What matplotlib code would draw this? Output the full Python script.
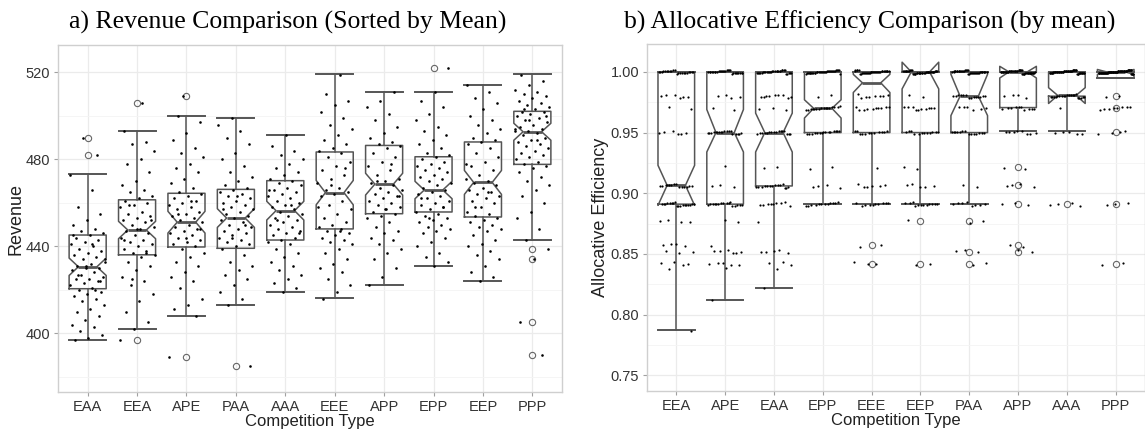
'''
Revenue and allocative efficiency by competition type (notched boxplots + jitter)
'''

import numpy as np
import matplotlib
matplotlib.use('Agg')
import matplotlib.pyplot as plt

# ---- panel a: revenue ----
rev_types = ['EAA', 'EEA', 'APE', 'PAA', 'AAA', 'EEE', 'APP', 'EPP', 'EEP', 'PPP']
rev_q1 = [420.5, 436.1, 439.7, 439.1, 442.9, 448.0, 455.0, 455.8, 453.5, 477.7]
rev_med = [430.6, 447.5, 451.1, 453.0, 456.4, 464.7, 468.6, 465.9, 469.4, 492.7]
rev_q3 = [445.2, 461.4, 464.4, 466.2, 470.2, 483.4, 486.4, 481.2, 488.0, 502.1]
rev_lo = [397.0, 402.0, 408.0, 413.0, 419.1, 416.2, 422.0, 431.1, 424.1, 443.0]
rev_hi = [473.2, 493.2, 500.0, 499.0, 491.1, 519.1, 511.1, 511.1, 514.1, 519.1]
rev_notch = [4.0, 4.0, 5.0, 4.3, 4.3, 5.6, 5.0, 4.0, 5.5, 3.9]
rev_fliers = [[490, 482], [506, 397], [509, 389], [385], [], [], [], [522], [],
              [439, 434, 405, 390]]

rev_EAA = [473, 466, 458, 455, 452, 450, 448, 447, 446, 445, 444, 443, 442, 441, 440, 439,
           438, 437, 436, 435, 434, 433, 432, 431, 430, 430, 429, 428, 427, 426, 425, 425,
           424, 423, 422, 421, 420, 419, 418, 417, 416, 415, 413, 411, 410, 408, 406, 404,
           403, 401, 399, 398, 397, 482, 490, 434, 441, 427, 424, 431, 445, 420]
rev_EEA = [493, 488, 487, 484, 480, 478, 474, 470, 468, 466, 465, 463, 462, 461, 460, 459,
           458, 456, 455, 454, 453, 452, 451, 450, 449, 448, 447, 446, 445, 444, 443, 442,
           441, 440, 439, 438, 437, 436, 435, 433, 431, 429, 426, 424, 422, 418, 415, 410,
           405, 402, 397, 506, 459, 452, 448, 443, 437, 425]
rev_APE = [500, 497, 492, 489, 485, 483, 481, 478, 476, 474, 471, 469, 467, 465, 464, 463,
           462, 461, 460, 459, 458, 457, 456, 455, 454, 453, 452, 451, 450, 449, 448, 447,
           446, 445, 444, 443, 442, 441, 440, 439, 437, 435, 433, 431, 428, 426, 424, 421,
           416, 413, 411, 408, 509, 389, 461, 455, 448, 444]
rev_PAA = [499, 496, 493, 490, 487, 483, 480, 477, 474, 472, 470, 468, 467, 466, 465, 464,
           463, 462, 461, 460, 459, 458, 457, 456, 455, 454, 453, 452, 451, 450, 449, 448,
           447, 446, 445, 444, 443, 442, 441, 440, 439, 436, 433, 431, 429, 427, 425, 422,
           419, 416, 413, 385, 463, 457, 450, 444]
rev_AAA = [491, 486, 484, 482, 480, 478, 476, 474, 473, 471, 470, 469, 468, 467, 466, 465,
           464, 463, 462, 461, 460, 459, 458, 457, 456, 455, 454, 453, 452, 451, 450, 449,
           448, 447, 446, 445, 444, 443, 442, 441, 439, 437, 435, 433, 431, 429, 427, 425,
           423, 421, 419, 466, 459, 452, 446]
rev_EEE = [519, 510, 507, 505, 502, 499, 496, 494, 491, 489, 487, 485, 484, 483, 481, 479,
           477, 475, 473, 471, 469, 467, 466, 465, 464, 463, 461, 459, 457, 455, 453, 451,
           450, 449, 448, 447, 446, 445, 444, 443, 442, 441, 439, 437, 434, 432, 430, 428,
           425, 422, 419, 416, 476, 468, 458, 447]
rev_APP = [511, 507, 504, 501, 498, 495, 492, 490, 488, 487, 486, 485, 483, 481, 479, 477,
           475, 473, 471, 470, 469, 468, 467, 466, 465, 464, 463, 462, 461, 460, 459, 458,
           457, 456, 455, 454, 453, 451, 449, 447, 446, 444, 443, 441, 439, 437, 434, 430,
           426, 422, 478, 470, 463, 457]
rev_EPP = [522, 511, 507, 504, 501, 498, 495, 493, 491, 489, 487, 485, 483, 482, 481, 480,
           479, 478, 477, 476, 475, 474, 473, 472, 471, 470, 469, 468, 467, 466, 465, 464,
           463, 462, 461, 460, 459, 458, 457, 456, 455, 454, 453, 452, 451, 450, 449, 448,
           447, 446, 444, 442, 440, 437, 435, 433, 431, 462, 458, 453]
rev_EEP = [514, 511, 508, 506, 503, 500, 498, 496, 494, 492, 490, 489, 488, 487, 485, 483,
           481, 479, 477, 475, 473, 471, 470, 469, 468, 467, 466, 465, 464, 463, 462, 461,
           460, 458, 456, 455, 454, 453, 452, 451, 450, 449, 448, 447, 445, 443, 441, 440,
           438, 436, 434, 431, 428, 426, 424, 478, 465, 458]
rev_PPP = [519, 516, 514, 512, 511, 510, 509, 508, 507, 506, 505, 504, 503, 502, 502, 501,
           500, 499, 498, 497, 496, 495, 494, 493, 493, 492, 491, 490, 489, 488, 487, 486,
           485, 484, 483, 482, 481, 480, 479, 478, 477, 476, 474, 472, 470, 468, 466, 463,
           460, 456, 453, 448, 443, 439, 434, 405, 390, 498, 494, 489, 503, 500]
rev_points = [rev_EAA, rev_EEA, rev_APE, rev_PAA, rev_AAA, rev_EEE, rev_APP, rev_EPP,
              rev_EEP, rev_PPP]

# ---- panel b: allocative efficiency ----
eff_types = ['EEA', 'APE', 'EAA', 'EPP', 'EEE', 'EEP', 'PAA', 'APP', 'AAA', 'PPP']
eff_q1 = [0.891, 0.891, 0.906, 0.950, 0.950, 0.950, 0.950, 0.9706, 0.980, 0.995]
eff_med = [0.9065, 0.950, 0.950, 0.970, 0.991, 1.000, 0.980, 1.000, 0.9806, 1.000]
eff_q3 = [1.0, 1.0, 1.0, 1.0, 1.0, 1.0, 1.0, 1.0, 1.0, 1.0]
eff_lo = [0.7873, 0.8123, 0.822, 0.891, 0.891, 0.891, 0.891, 0.951, 0.951, 0.995]
eff_hi = [1.0, 1.0, 1.0, 1.0, 1.0, 1.0, 1.0, 1.0, 1.0, 1.0]
eff_cilo = [0.890, 0.934, 0.934, 0.962, 0.983, 0.986, 0.964, 0.995, 0.974, 0.998]
eff_cihi = [0.923, 0.969, 0.966, 0.977, 0.998, 1.008, 0.998, 1.0046, 0.987, 1.002]
eff_fliers = [[], [], [], [], [0.857, 0.842], [0.877, 0.842], [0.877, 0.8515, 0.842],
              [0.9216, 0.9065, 0.891, 0.857, 0.8515], [0.891],
              [0.980, 0.9706, 0.9506, 0.891, 0.842]]

# observed efficiency levels and how many runs landed on each
eff_levels = [1.00, 0.98, 0.97, 0.95, 0.921, 0.906, 0.891, 0.877, 0.857, 0.852, 0.842,
              0.837, 0.822, 0.812, 0.787]
cnt_EEA = [22, 6, 2, 6, 0, 14, 18, 4, 4, 3, 4, 1, 0, 0, 1]
cnt_APE = [28, 4, 2, 18, 1, 3, 16, 2, 1, 6, 5, 1, 0, 1, 0]
cnt_EAA = [30, 9, 3, 16, 2, 14, 9, 1, 0, 5, 3, 1, 1, 0, 0]
cnt_EPP = [35, 2, 16, 15, 2, 4, 12, 0, 0, 0, 0, 0, 0, 0, 0]
cnt_EEE = [35, 8, 10, 12, 1, 6, 10, 0, 2, 0, 3, 0, 0, 0, 0]
cnt_EEP = [40, 2, 10, 12, 2, 5, 12, 1, 0, 0, 2, 0, 0, 0, 0]
cnt_PAA = [38, 14, 6, 14, 0, 2, 8, 2, 0, 3, 2, 0, 0, 0, 0]
cnt_APP = [50, 4, 10, 8, 2, 4, 3, 0, 2, 2, 0, 0, 0, 0, 0]
cnt_AAA = [55, 20, 1, 5, 0, 0, 4, 0, 0, 0, 0, 0, 0, 0, 0]
cnt_PPP = [70, 2, 8, 4, 0, 0, 3, 0, 0, 0, 2, 0, 0, 0, 0]
eff_counts = [cnt_EEA, cnt_APE, cnt_EAA, cnt_EPP, cnt_EEE, cnt_EEP, cnt_PAA, cnt_APP,
              cnt_AAA, cnt_PPP]

box_col = '#555555'
grid_major = '#ebebeb'
grid_minor = '#f4f4f4'


def jitter(n, seed, amount):
	# deterministic spread (low discrepancy) in place of random jitter
	return ((np.arange(n) * 0.6180339 + seed) % 1.0 - 0.5) * 2 * amount


def style_axes(ax, labels, ylabel):
	ax.set_xlim(0.4, len(labels) + 0.6)
	ax.set_xticks(np.arange(1, len(labels) + 1))
	ax.set_xticklabels(labels)
	ax.grid(True, which='major', color=grid_major, lw=0.9, zorder=0)
	ax.grid(True, which='minor', axis='y', color=grid_minor, lw=0.6, zorder=0)
	ax.set_axisbelow(True)
	for s in ax.spines.values():
		s.set_color('#cfcfcf')
		s.set_linewidth(1.0)
	ax.tick_params(axis='both', colors='#a0a0a0', labelcolor='#333333', labelsize=10.5,
	               length=3, width=0.8, pad=2.5)
	ax.tick_params(axis='y', which='minor', length=0)
	ax.set_xlabel('Competition Type', fontsize=12, color='#222222', labelpad=0)
	ax.set_ylabel(ylabel, fontsize=13, color='#222222', labelpad=1)


def draw_boxes(ax, q1, med, q3, lo, hi, cilo, cihi, fliers):
	stats = []
	for i in range(len(q1)):
		stats.append(dict(q1=q1[i], med=med[i], q3=q3[i], whislo=lo[i], whishi=hi[i],
		                  cilo=cilo[i], cihi=cihi[i], fliers=fliers[i]))
	ax.bxp(stats, positions=np.arange(1, len(q1) + 1), widths=0.75, shownotches=True,
	       boxprops=dict(color=box_col, lw=1.1),
	       whiskerprops=dict(color=box_col, lw=1.1),
	       capprops=dict(color=box_col, lw=1.4),
	       medianprops=dict(color=box_col, lw=2.0),
	       flierprops=dict(marker='o', markerfacecolor='none', markeredgecolor='#666666',
	                       markersize=4.5, markeredgewidth=0.8),
	       capwidths=0.75, zorder=2)


plt.rcParams['font.family'] = ['Liberation Sans', 'DejaVu Sans']

fig = plt.figure('Competition comparison', figsize=(11.45, 4.32), dpi=100)
ax1 = fig.add_axes([58 / 1145, 40 / 432, 504 / 1145, 347 / 432])
ax2 = fig.add_axes([647 / 1145, 41 / 432, 498 / 1145, 347 / 432])

# a) revenue
rev_cilo = [m - d for m, d in zip(rev_med, rev_notch)]
rev_cihi = [m + d for m, d in zip(rev_med, rev_notch)]
draw_boxes(ax1, rev_q1, rev_med, rev_q3, rev_lo, rev_hi, rev_cilo, rev_cihi, rev_fliers)
for i, vals in enumerate(rev_points):
	xs = i + 1 + jitter(len(vals), 0.13 * i, 0.36)
	ax1.scatter(xs, vals, s=3.5, c='black', lw=0, zorder=3)
ax1.set_ylim(373, 532.6)
ax1.set_yticks([400, 440, 480, 520])
ax1.set_yticks([380, 420, 460, 500], minor=True)
style_axes(ax1, rev_types, 'Revenue')

# b) allocative efficiency
draw_boxes(ax2, eff_q1, eff_med, eff_q3, eff_lo, eff_hi, eff_cilo, eff_cihi, eff_fliers)
for i, cnts in enumerate(eff_counts):
	vals = np.repeat(eff_levels, cnts)
	xs = i + 1 + jitter(len(vals), 0.37 * i, 0.36)
	ys = vals + jitter(len(vals), 0.21 * i + 0.5, 0.0015)
	ax2.scatter(xs, ys, s=2.5, c='black', lw=0, zorder=3)
ax2.set_ylim(0.737, 1.023)
ax2.set_yticks([0.75, 0.80, 0.85, 0.90, 0.95, 1.00])
ax2.set_yticklabels(['0.75', '0.80', '0.85', '0.90', '0.95', '1.00'])
ax2.set_yticks([0.775, 0.825, 0.875, 0.925, 0.975], minor=True)
style_axes(ax2, eff_types, 'Allocative Efficiency')

fig.text(288 / 1145, 1 - 22 / 432, 'a) Revenue Comparison (Sorted by Mean)',
         family='Liberation Serif', fontsize=18.5, ha='center', va='center')
fig.text(870 / 1145, 1 - 22 / 432, 'b) Allocative Efficiency Comparison (by mean)',
         family='Liberation Serif', fontsize=18.5, ha='center', va='center')

plt.savefig('out.png', dpi=100, format='png')
